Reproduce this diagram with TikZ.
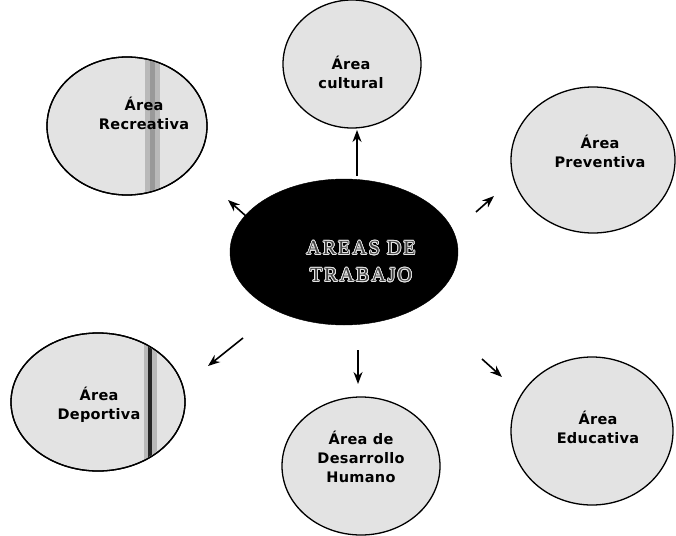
\documentclass[tikz,border=0pt]{standalone}
\usepackage{fontspec}
\setmainfont{DejaVu Sans}
\newfontfamily\lblfont{DejaVu Sans}[LetterSpace=2]
\newfontfamily\corefont{Liberation Serif}[LetterSpace=10]
\usepackage{contour}
\contourlength{0.8pt}
\usetikzlibrary{shapes.geometric,arrows.meta}
\tikzset{
  area/.style={ellipse, draw=black, line width=1.3pt, fill=gray!22, inner sep=0pt},
  lbl/.style={align=center, font=\lblfont\bfseries\fontsize{14.5}{19}\selectfont, text=black},
  ray/.style={line width=1.6pt, -{Stealth[length=12pt,width=9pt]}},
  band/.style={fill=gray!55}
}
\begin{document}
\begin{tikzpicture}[x=1pt,y=-1pt]
\useasboundingbox (0,0) rectangle (676,535);
% outer ellipses
\node[area, minimum width=138pt, minimum height=128pt] (cult) at (352,64) {};
\node[area, minimum width=160pt, minimum height=138pt] (rec) at (127,126) {};
\node[area, minimum width=164pt, minimum height=146pt] (prev) at (593,160) {};
\node[area, minimum width=174pt, minimum height=138pt] (dep) at (98,402) {};
\node[area, minimum width=158pt, minimum height=138pt] (des) at (361,466) {};
\node[area, minimum width=162pt, minimum height=148pt] (edu) at (592,431) {};
% scanner bands
\begin{scope}
  \clip (127,126) ellipse [x radius=79pt, y radius=68pt];
  \fill[band] (145,50) rectangle (160,200);
  \fill[gray!80] (150,50) rectangle (155,200);
\end{scope}
\begin{scope}
  \clip (98,402) ellipse [x radius=86pt, y radius=68pt];
  \fill[band] (144,330) rectangle (157,475);
  \fill[black!85] (148,330) rectangle (152,475);
\end{scope}
\draw[line width=1.3pt] (127,126) ellipse [x radius=80pt, y radius=69pt];
\draw[line width=1.3pt] (98,402) ellipse [x radius=87pt, y radius=69pt];
% centre
\node[ellipse, fill=black, draw=black, minimum width=228pt, minimum height=146pt] (core) at (344,252) {};
\node[align=center, font=\corefont\fontsize{20}{27}\selectfont, text=black!75] (coreT) at (361,262) {\contour{white!90!black}{AREAS DE}\\\contour{white!90!black}{TRABAJO}};
% labels
\node[lbl] (cultT) at (351,72) {Área\\cultural};
\node[lbl] (recT) at (144,113) {Área\\Recreativa};
\node[lbl] (prevT) at (600,151) {Área\\Preventiva};
\node[lbl] (depT) at (99,405) {Área\\Deportiva};
\node[lbl] (desT) at (361,457) {Área de\\Desarrollo\\Humano};
\node[lbl] (eduT) at (598,427) {Área\\Educativa};
% arrow ends
\coordinate (a1) at (357,176); \coordinate (b1) at (357,130);
\coordinate (a2) at (247,217); \coordinate (b2) at (228,200);
\coordinate (a3) at (476,212); \coordinate (b3) at (494,196);
\coordinate (a4) at (243,338); \coordinate (b4) at (208,366);
\coordinate (a5) at (358,350); \coordinate (b5) at (358,384);
\coordinate (a6) at (482,359); \coordinate (b6) at (502,377);
\draw[ray] (a1) -- (b1);
\draw[ray] (a2) -- (b2);
\draw[ray] (a3) -- (b3);
\draw[ray] (a4) -- (b4);
\draw[ray] (a5) -- (b5);
\draw[ray] (a6) -- (b6);
\end{tikzpicture}
\end{document}
